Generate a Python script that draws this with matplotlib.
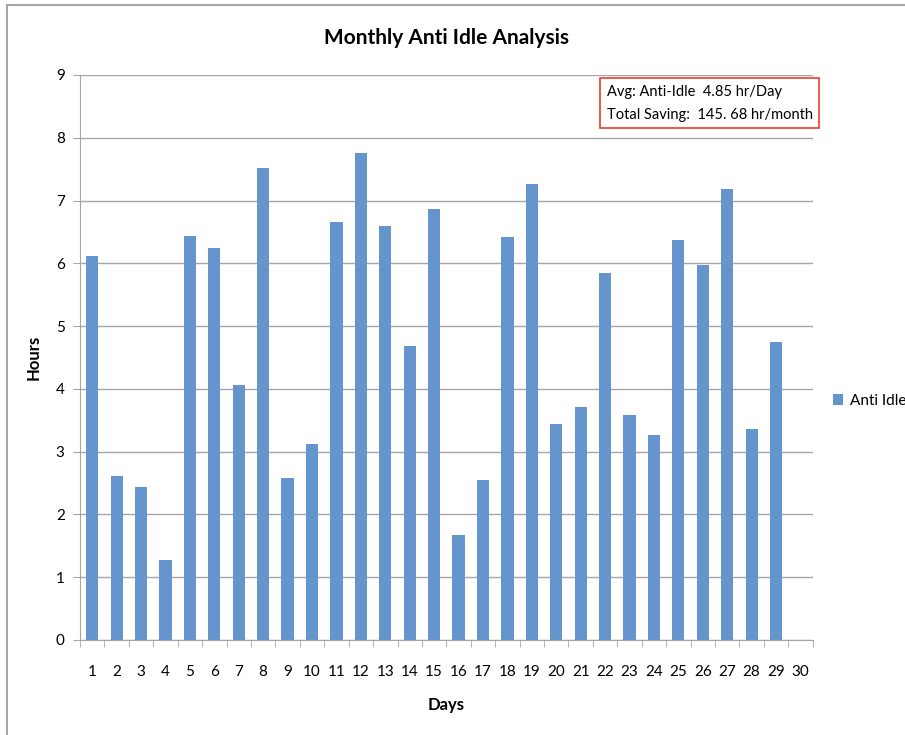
import matplotlib.pyplot as plt
from matplotlib.lines import Line2D

plt.rcParams["font.family"] = ["Lato", "DejaVu Sans"]
plt.rcParams["font.size"] = 11

# Data
days = list(range(1, 31))
hours = [6.11, 2.61, 2.44, 1.27, 6.43, 6.24, 4.06, 7.52, 2.58, 3.12,
         6.66, 7.75, 6.59, 4.68, 6.86, 1.67, 2.55, 6.42, 7.26, 3.44,
         3.71, 5.84, 3.58, 3.26, 6.37, 5.97, 7.18, 3.36, 4.75, 0.0]
y_ticks = list(range(0, 10))

fig = plt.figure(figsize=(9.05, 7.35), dpi=100)
ax = fig.add_axes([0.0884, 0.1293, 0.8096, 0.7687])

ax.bar(days, hours, width=0.5, color="#6496cd", label="Anti Idle", zorder=3)

ax.set_xlim(0.5, 30.5)
ax.set_ylim(0, 9)
ax.set_yticks(y_ticks)
ax.set_xticks(days)
ax.set_xticks([d + 0.5 for d in range(0, 31)], minor=True)
ax.tick_params(axis="x", which="major", length=0, pad=18, labelsize=11)
ax.tick_params(axis="x", which="minor", length=5, color="#a6a6a6")
ax.tick_params(axis="y", length=5, color="#a6a6a6", labelsize=11, pad=6)
ax.grid(axis="y", color="#a6a6a6", linewidth=1, zorder=0)

for s in ["top", "right"]:
    ax.spines[s].set_visible(False)
ax.spines["left"].set_color("#a6a6a6")
ax.spines["bottom"].set_color("#a6a6a6")

ax.set_title("Monthly Anti Idle Analysis", fontsize=15, fontweight="bold", pad=22)
ax.set_xlabel("Days", fontsize=12, fontweight="bold", labelpad=13)
ax.set_ylabel("Hours", fontsize=12, fontweight="bold", labelpad=10)

ax.text(0.719, 0.983, "Avg: Anti-Idle  4.85 hr/Day\nTotal Saving:  145. 68 hr/month",
        transform=ax.transAxes, va="top", ha="left", fontsize=10.5, linespacing=1.85,
        bbox=dict(boxstyle="square,pad=0.45", facecolor="white", edgecolor="#e8402a",
                  linewidth=1.2), zorder=5)

fig.legend(loc="center left", bbox_to_anchor=(0.905, 0.455), frameon=False,
           handlelength=0.7, handleheight=0.7, handletextpad=0.4, fontsize=11)

# outer chart frame (top and left edges)
fig.add_artist(Line2D([0.008, 1.0], [0.993, 0.993], color="#a6a6a6", linewidth=1.5))
fig.add_artist(Line2D([0.008, 0.008], [0.0, 0.993], color="#a6a6a6", linewidth=1.5))

fig.savefig("out.png", dpi=100)
